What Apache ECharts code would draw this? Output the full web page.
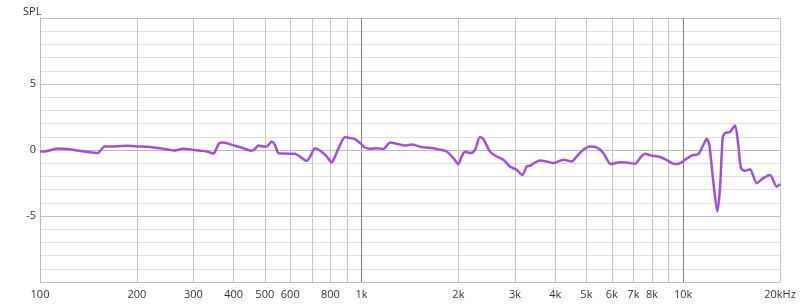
<!DOCTYPE html>
<html>
<head>
<meta charset="utf-8">
<script src="https://cdn.jsdelivr.net/npm/echarts@6/dist/echarts.min.js"></script>
<style>html,body{margin:0;padding:0;background:#fff}#c{width:800px;height:307px}</style>
</head>
<body>
<div id="c"></div>
<script>
const freqs = [100,103,114,122,134,150,152,159,171,188,202,217,250,260,279,311,330,346,350,361,372,395,424,455,466,477,495,507,525,538,551,578,621,636,675,695,716,742,779,807,827,857,888,920,954,989,1024,1062,1114,1168,1226,1286,1365,1432,1519,1574,1671,1775,1839,1929,1998,2048,2097,2189,2253,2335,2390,2507,2599,2758,2893,3036,3160,3262,3340,3462,3588,3764,3947,4239,4502,4667,4891,5131,5384,5644,5964,6362,6674,7082,7341,7607,7983,8367,8779,9209,9544,10007,10130,10627,11140,11548,11834,12057,12406,12767,13014,13268,13490,13979,14490,14835,15125,15566,16132,16926,17748,18620,19535,20000];
const spl = [-0.11,-0.11,0.11,0.07,-0.08,-0.23,-0.21,0.27,0.27,0.32,0.27,0.24,0.04,-0.04,0.09,-0.04,-0.11,-0.27,-0.14,0.52,0.57,0.39,0.17,-0.06,0.07,0.34,0.27,0.27,0.62,0.39,-0.23,-0.27,-0.29,-0.42,-0.82,-0.42,0.14,-0.04,-0.49,-0.95,-0.49,0.39,0.98,0.90,0.83,0.52,0.19,0.09,0.14,0.07,0.57,0.47,0.34,0.42,0.25,0.19,0.14,0.0,-0.11,-0.61,-1.07,-0.49,-0.14,-0.23,0.02,0.98,0.83,-0.11,-0.42,-0.74,-1.25,-1.5,-1.9,-1.25,-1.2,-0.95,-0.8,-0.87,-0.99,-0.74,-0.87,-0.49,0.02,0.27,0.19,-0.23,-1.07,-0.92,-0.95,-1.05,-0.61,-0.29,-0.44,-0.49,-0.69,-0.99,-1.07,-0.87,-0.74,-0.42,-0.31,0.39,0.85,0.39,-2.39,-4.66,-2.89,0.90,1.28,1.36,1.86,0.39,-1.37,-1.58,-1.45,-2.51,-2.13,-1.89,-2.77,-2.58];
const gridFreqs = [100,200,300,400,500,600,700,800,900,1000,2000,3000,4000,5000,6000,7000,8000,9000,10000,20000];
const labelFreqs = [100,200,300,400,500,600,800,1000,2000,3000,4000,5000,6000,7000,8000,10000,20000];
const labelTexts = ['100','200','300','400','500','600','800','1k','2k','3k','4k','5k','6k','7k','8k','10k','20kHz'];
const yLabels = [-5,0,5];

const lg = v => Math.log10(v);
const font = '"Open Sans", "Noto Sans", sans-serif';
const vColors = gridFreqs.map(f => (f === 1000 || f === 10000) ? '#808080' : '#c4c4c4');
const labelMap = {};
labelFreqs.forEach((f, i) => { labelMap[lg(f).toFixed(5)] = labelTexts[i]; });

const chart = echarts.init(document.getElementById('c'));
chart.setOption({
  animation: false,
  backgroundColor: '#fff',
  title: { text: 'SPL', left: 18, top: 1, textStyle: { fontFamily: font, fontSize: 11, fontWeight: 'normal', color: '#333' } },
  grid: { left: 40, right: 20, top: 18, bottom: 25, containLabel: false },
  xAxis: {
    type: 'value', min: lg(100), max: lg(20000),
    axisLine: { show: true, lineStyle: { color: '#bbb', width: 1 } },
    axisTick: { show: false, customValues: gridFreqs.map(lg) },
    axisLabel: {
      customValues: labelFreqs.map(lg),
      formatter: v => labelMap[v.toFixed(5)] || '',
      fontFamily: font, fontSize: 11, color: '#333', margin: 7,
      showMinLabel: true, showMaxLabel: true
    },
    splitLine: { show: true, lineStyle: { color: vColors, width: 1 } }
  },
  yAxis: {
    type: 'value', min: -10, max: 10, interval: 1,
    axisLine: { show: true, lineStyle: { color: '#bbb', width: 1 } },
    axisTick: { show: false },
    axisLabel: {
      formatter: v => yLabels.indexOf(v) >= 0 ? String(v) : '',
      fontFamily: font, fontSize: 11, color: '#333', margin: 4
    },
    splitLine: { show: true, lineStyle: { color: ['#bdbdbd', '#e0e0e0', '#e0e0e0', '#e0e0e0', '#e0e0e0'], width: 1 } }
  },
  series: [{
    type: 'line',
    data: freqs.map((f, i) => [lg(f), spl[i]]),
    showSymbol: false,
    smooth: 0.25,
    lineStyle: { color: '#a050d8', width: 2.5 },
    itemStyle: { color: '#a050d8' }
  }]
});
</script>
</body>
</html>
